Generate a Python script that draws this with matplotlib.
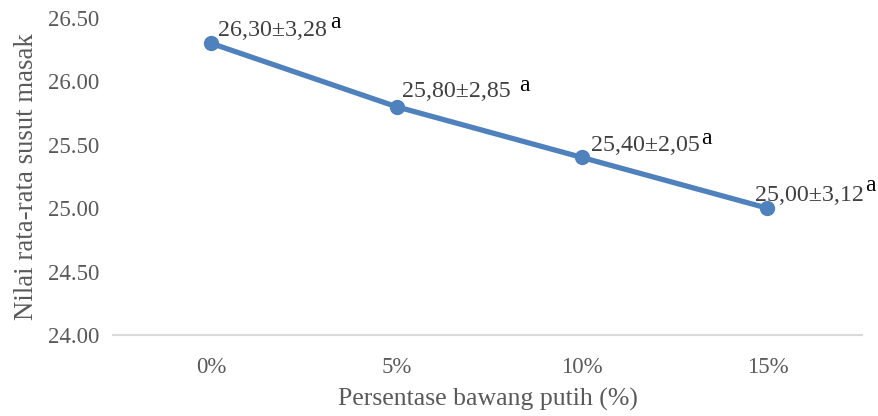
import matplotlib
matplotlib.use("Agg")
import matplotlib.pyplot as plt

categories = ["0%", "5%", "10%", "15%"]
values = [26.30, 25.80, 25.40, 25.00]
labels = ["26,30±3,28", "25,80±2,85", "25,40±2,05", "25,00±3,12"]
sup = ["a", "a", "a", "a"]
yticks = [24.00, 24.50, 25.00, 25.50, 26.00, 26.50]

# label placement (pixels)
offsets = [(7, 7), (5, 10), (9, 6), (-12, 7)]
gaps = [3, 9, 1, 1]
raises = [8, 6, 7, 10]

plt.rcParams['font.family'] = ['Liberation Serif', 'DejaVu Serif']

fig = plt.figure(figsize=(8.79, 4.16), dpi=100)
ax = fig.add_axes([113/879, 1-335/416, (862-113)/879, (335-18)/416])

x = list(range(len(categories)))
ax.plot(x, values, color="#4f81bd", linewidth=3.8, marker="o", markersize=10,
        solid_capstyle="round", zorder=3, clip_on=False)

ax.set_xlim(-0.53, 3.51)
ax.set_ylim(24.0, 26.5)
ax.set_xticks(x)
ax.set_xticklabels(categories)
ax.set_yticks(yticks)
ax.set_yticklabels([f"{v:.2f}" for v in yticks])
ax.tick_params(axis="both", length=0, labelsize=16.5, colors="#595959")
ax.tick_params(axis="y", pad=10)
ax.tick_params(axis="x", pad=16)
for s in ["top", "right", "left"]:
    ax.spines[s].set_visible(False)
ax.spines["bottom"].set_color("#d9d9d9")
ax.spines["bottom"].set_linewidth(1.5)

ax.set_xlabel("Persentase bawang putih (%)", fontsize=18.5, color="#595959", labelpad=7)
ax.set_ylabel("Nilai rata-rata susut masak", fontsize=19.3, color="#595959", labelpad=6)

texts = []
for xi, v, lab, off in zip(x, values, labels, offsets):
    t = ax.annotate(lab, xy=(xi, v), xytext=off, textcoords="offset pixels",
                    ha="left", va="baseline", fontsize=17.3, color="#404040", zorder=4)
    texts.append(t)

fig.canvas.draw()
r = fig.canvas.get_renderer()
for t, s, g, rz, xi, v, off in zip(texts, sup, gaps, raises, x, values, offsets):
    bb = t.get_window_extent(renderer=r)
    px, py = ax.transData.transform((xi, v))
    fig.text(bb.x1 + g, py + off[1] + rz, s, transform=None,
             ha="left", va="baseline", fontsize=17, color="#000000")

fig.savefig("out.png", dpi=100)
